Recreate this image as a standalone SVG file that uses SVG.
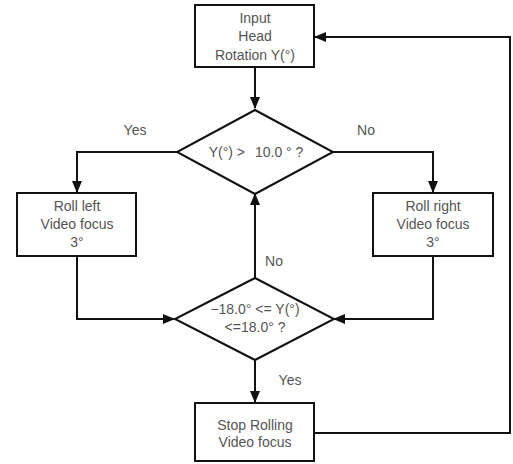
<svg xmlns="http://www.w3.org/2000/svg" width="513" height="464" viewBox="0 0 513 464">
<defs>
<marker id="ah" markerWidth="12" markerHeight="10" refX="11" refY="5" orient="auto" markerUnits="userSpaceOnUse">
<path d="M0,0 L12,5 L0,10 Z" fill="#111"/>
</marker>
<style>
.n{fill:#fff;stroke:#111;stroke-width:2}
.c{fill:none;stroke:#111;stroke-width:2}
text{font-family:"Liberation Sans",Arial,sans-serif;font-size:14px;fill:#555;text-anchor:middle}
</style>
</defs>
<rect width="513" height="464" fill="#fff"/>
<g id="connectors">
<path class="c" d="M255,67 V108" marker-end="url(#ah)"/>
<path class="c" d="M177,152 H77 V192" marker-end="url(#ah)"/>
<path class="c" d="M333,152 H433 V192" marker-end="url(#ah)"/>
<path class="c" d="M77,256 V319 H174" marker-end="url(#ah)"/>
<path class="c" d="M433,256 V319 H334" marker-end="url(#ah)"/>
<path class="c" d="M255,278 V194" marker-end="url(#ah)"/>
<path class="c" d="M255,360 V402" marker-end="url(#ah)"/>
<path class="c" d="M314,433 H510 V37 H315" marker-end="url(#ah)"/>
<text x="135" y="135">Yes</text>
<text x="366" y="135">No</text>
<text x="274" y="266">No</text>
<text x="290" y="385">Yes</text>
</g>
<g id="input">
<rect class="n" x="195" y="5" width="119" height="62"/>
<text x="255" y="23">Input</text>
<text x="255" y="41">Head</text>
<text x="255" y="60">Rotation Y(°)</text>
</g>
<g id="decision1">
<polygon class="n" points="255,110 333,152 255,194 177,152"/>
<text x="256" y="157">Y(°) &gt;<tspan dx="10">10.0 ° ?</tspan></text>
</g>
<g id="rollLeft">
<rect class="n" x="17" y="193" width="119" height="63"/>
<text x="77" y="211">Roll left</text>
<text x="77" y="229">Video focus</text>
<text x="77" y="247">3°</text>
</g>
<g id="rollRight">
<rect class="n" x="373" y="193" width="120" height="63"/>
<text x="433" y="211">Roll right</text>
<text x="433" y="229">Video focus</text>
<text x="433" y="247">3°</text>
</g>
<g id="decision2">
<polygon class="n" points="255,278 334,319 255,360 175,319"/>
<text x="255" y="314">−18.0° &lt;= Y(°)</text>
<text x="255" y="332">&lt;=18.0° ?</text>
</g>
<g id="stop">
<rect class="n" x="195" y="403" width="119" height="58"/>
<text x="255" y="430">Stop Rolling</text>
<text x="255" y="447">Video focus</text>
</g>
</svg>
